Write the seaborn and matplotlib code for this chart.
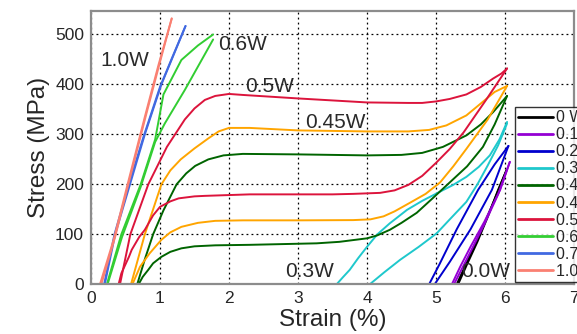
import numpy as np
import pandas as pd
import matplotlib
matplotlib.use('Agg')
import matplotlib.pyplot as plt
import seaborn as sns

# Ciclos carga/descarga (strain %, stress MPa)
powers = ['0 W', '0.1 W', '0.2 W', '0.3 W', '0.4 W', '0.45 W', '0.5 W', '0.6 W', '0.7 W', '1.0 W']
colores = ['#000000', '#9400D3', '#0000CD', '#1FC8CC', '#006400', '#FFA500',
           '#DC143C', '#32CD32', '#4169E1', '#FA8072']

p00_load = [(5.32, 0), (5.45, 40), (5.6, 85), (5.75, 135), (5.9, 189), (6.02, 228)]
p00_unload = [(6.02, 228), (5.85, 170), (5.65, 105), (5.45, 45), (5.3, 0)]

p01_load = [(5.23, 0), (5.35, 35), (5.5, 75), (5.7, 125), (5.93, 189), (6.07, 245)]
p01_unload = [(6.07, 245), (5.9, 180), (5.7, 120), (5.5, 65), (5.26, 0)]

p02_load = [(4.9, 0), (5.05, 40), (5.3, 110), (5.61, 189), (5.85, 240), (6.05, 277)]
p02_unload = [(6.05, 277), (5.81, 189), (5.5, 110), (5.2, 45), (4.98, 0)]

p03_load = [(3.56, 0), (3.65, 14), (3.75, 29), (3.87, 52), (4.0, 75), (4.15, 100), (4.33, 122),
            (4.58, 149), (4.8, 167), (5.01, 182), (5.25, 199), (5.44, 215), (5.62, 235),
            (5.78, 258), (5.92, 290), (6.03, 325)]
p03_unload = [(6.03, 322), (5.9, 278), (5.75, 238), (5.6, 200), (5.44, 165), (5.2, 130),
              (5.01, 102), (4.75, 75), (4.48, 49), (4.25, 24), (4.04, 0)]

p04_load = [(0.67, 0), (0.78, 50), (0.9, 100), (1.05, 148), (1.24, 200), (1.38, 222), (1.51, 237),
            (1.7, 250), (1.92, 258), (2.2, 261), (3.0, 260), (4.0, 258), (4.5, 259), (4.8, 263),
            (5.1, 275), (5.44, 298), (5.65, 320), (5.83, 345), (6.03, 377)]
p04_unload = [(6.03, 377), (5.85, 320), (5.68, 275), (5.45, 236), (5.2, 204), (4.95, 172),
              (4.72, 143), (4.5, 123), (4.33, 109), (4.15, 98), (4.0, 92), (3.6, 85), (3.27, 82),
              (2.3, 79), (1.8, 78), (1.5, 76), (1.31, 72), (1.15, 65), (1.02, 55), (0.9, 42),
              (0.83, 29), (0.75, 15), (0.69, 0)]

p045_load = [(0.58, 0), (0.78, 100), (1.02, 200), (1.15, 228), (1.3, 250), (1.5, 272), (1.7, 292),
             (1.85, 306), (2.0, 313), (2.3, 313), (3.0, 308), (4.0, 306), (4.6, 306), (4.9, 309),
             (5.15, 318), (5.44, 338), (5.65, 362), (5.85, 385), (6.03, 397)]
p045_unload = [(6.03, 397), (5.75, 330), (5.44, 271), (5.25, 236), (5.06, 204), (4.85, 181),
               (4.62, 163), (4.4, 146), (4.24, 136), (4.05, 130), (3.8, 128.5), (3.0, 128), (2.2, 128),
               (1.8, 127), (1.55, 123), (1.31, 115), (1.15, 104), (1.02, 89), (0.85, 62),
               (0.71, 35), (0.6, 0)]

p05_load = [(0.42, 0), (0.57, 100), (0.83, 200), (1.1, 275), (1.36, 330), (1.5, 352), (1.65, 369),
            (1.8, 377), (2.0, 381), (2.2, 379), (3.0, 372), (4.0, 364), (4.6, 363), (4.8, 363),
            (5.0, 366), (5.2, 371), (5.44, 380), (5.65, 395), (5.83, 412), (5.95, 422), (6.03, 432)]
p05_unload = [(6.03, 432), (5.73, 370), (5.4, 304), (5.2, 271), (5.0, 243), (4.8, 217), (4.6, 199),
              (4.4, 188), (4.19, 183), (3.8, 181), (3.5, 180), (2.3, 180), (1.65, 177), (1.5, 176),
              (1.27, 172), (1.15, 166), (1.0, 155), (0.9, 138), (0.78, 109), (0.7, 95), (0.59, 69),
              (0.55, 55), (0.44, 22), (0.40, 0)]

p06_load = [(0.23, 0), (0.44, 100), (0.72, 200), (0.93, 290), (1.05, 380), (1.31, 449),
            (1.55, 478), (1.77, 500)]
p06_unload = [(1.77, 490), (1.36, 389), (1.07, 322), (0.93, 285), (0.72, 195), (0.45, 95), (0.24, 0)]

p07_load = [(0.2, 0), (0.35, 100), (0.565, 200), (0.78, 300), (1.02, 400), (1.2, 460), (1.37, 517)]
p07_unload = [(1.37, 517), (1.18, 455), (1.0, 395), (0.76, 295), (0.55, 200), (0.34, 100), (0.19, 0)]

p10_load = [(0.15, 0), (0.35, 95), (0.55, 205), (0.8, 340), (1.0, 445), (1.17, 532)]
p10_unload = [(1.17, 532), (0.98, 440), (0.78, 335), (0.53, 200), (0.33, 90), (0.13, 0)]

ramas = [p00_load, p00_unload, p01_load, p01_unload, p02_load, p02_unload, p03_load, p03_unload,
         p04_load, p04_unload, p045_load, p045_unload, p05_load, p05_unload, p06_load, p06_unload,
         p07_load, p07_unload, p10_load, p10_unload]

# Etiquetas dentro del grafico
etiquetas = ['1.0W', '0.6W', '0.5W', '0.45W', '0.3W', '0.0W']
etiq_x = [0.13, 1.84, 2.24, 3.1, 2.82, 5.36]
etiq_y = [447, 480, 395, 324, 26, 26]

# Construir tabla larga
filas = []
for i, rama in enumerate(ramas):
    pw = powers[i // 2]
    for orden, (s, st) in enumerate(rama):
        filas.append({'strain': s, 'stress': st, 'power': pw, 'rama': i, 'orden': orden})
df = pd.DataFrame(filas)

sns.set_style('white')
plt.rcParams['font.family'] = ['Liberation Sans', 'DejaVu Sans']

fig = plt.figure(figsize=(5.77, 3.34), dpi=100)
ax = fig.add_axes([91 / 577, 1 - 284.3 / 334, (574 - 91) / 577, (284.3 - 11) / 334])

sns.lineplot(data=df, x='strain', y='stress', hue='power', hue_order=powers,
             palette=dict(zip(powers, colores)), units='rama', estimator=None, sort=False,
             linewidth=1.4, ax=ax)

ax.set_xlim(0, 7)
ax.set_ylim(0, 547)
ax.set_xticks(range(0, 8))
ax.set_yticks([0, 100, 200, 300, 400, 500])
ax.grid(True, color='black', linestyle=(0, (1.5, 2.5)), linewidth=0.9)
ax.tick_params(labelsize=12.5, length=0, pad=5)
for sp in ax.spines.values():
    sp.set_color('#8c8c8c')
    sp.set_linewidth(1.6)

ax.set_xlabel('Strain (%)', fontsize=17.5, labelpad=2)
ax.set_ylabel('Stress (MPa)', fontsize=17.5, labelpad=4)

for t, x, y in zip(etiquetas, etiq_x, etiq_y):
    ax.text(x, y, t, fontsize=15, color='#2a2a2a', ha='left', va='center')

# Leyenda (cortada a la derecha como en el original)
sns.move_legend(ax, 'upper left', bbox_to_anchor=(515 / 577, 1 - 107 / 334),
                bbox_transform=fig.transFigure, title=None, frameon=True, fontsize=11.5,
                handlelength=2.15, handletextpad=0.2, labelspacing=0.13, borderpad=0.2,
                borderaxespad=0, fancybox=False)
leg = ax.get_legend()
leg.get_frame().set_edgecolor('black')
leg.get_frame().set_linewidth(1.0)
for ln in leg.get_lines():
    ln.set_linewidth(2)

fig.savefig('out.png', dpi=100)
